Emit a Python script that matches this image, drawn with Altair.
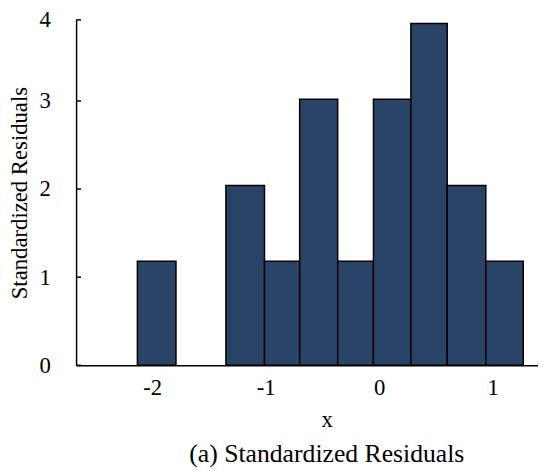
import altair as alt
import pandas as pd

# bins (x in data units) and bar heights
bin_start = [-2.13, -1.35, -1.01, -0.70, -0.365, -0.05, 0.28, 0.60, 0.94]
bin_end = [-1.79, -1.01, -0.70, -0.365, -0.05, 0.28, 0.60, 0.94, 1.27]
values = [1.18, 2.04, 1.18, 3.02, 1.18, 3.02, 3.88, 2.04, 1.18]

x_ticks = [-2, -1, 0, 1]
y_ticks = [0, 1, 2, 3, 3.92]

FONT = "'Liberation Serif', 'Times New Roman', 'DejaVu Serif', serif"

df = pd.DataFrame({"start": bin_start, "end": bin_end, "value": values})
df_ticks = pd.DataFrame({"v": y_ticks})

xscale = alt.Scale(domain=[-2.67, 1.40], nice=False, zero=False)
yscale = alt.Scale(domain=[0, 3.92], nice=False)

yaxis = alt.Axis(values=y_ticks, title="Standardized Residuals",
                 labelExpr="datum.value > 3.5 ? '4' : datum.label",
                 ticks=False, grid=False, labelPadding=26,
                 titlePadding=8, domainColor="black", domainWidth=1.5)

bars = alt.Chart(df).mark_bar(
    color="#2a4468", stroke="black", strokeWidth=1.5
).encode(
    x=alt.X("start:Q", scale=xscale,
            axis=alt.Axis(values=x_ticks, title="x", ticks=False, grid=False,
                          labelExpr="datum.value < 0 ? '-' + abs(datum.value) : datum.label",
                          labelPadding=12, titlePadding=9, domainColor="black",
                          domainWidth=1.5, titleX=254)),
    x2="end:Q",
    y=alt.Y("value:Q", scale=yscale, axis=yaxis),
    y2=alt.datum(0),
)

ticks = alt.Chart(df_ticks).mark_rule(color="black", strokeWidth=1.5).encode(
    y=alt.Y("v:Q", scale=yscale, axis=yaxis),
    x=alt.value(0),
    x2=alt.value(5),
)

chart = alt.layer(bars, ticks).properties(
    width=468,
    height=350,
    autosize=alt.AutoSizeParams(type="none"),
    padding={"left": 69, "top": 9, "right": 0, "bottom": 100},
    title=alt.TitleParams("(a) Standardized Residuals", orient="bottom",
                          font=FONT, fontSize=26, fontWeight="normal",
                          color="black", offset=10, dx=20),
).configure_view(stroke=None).configure_axis(
    labelFont=FONT, titleFont=FONT, labelFontSize=23, titleFontSize=23,
    titleFontWeight="normal", labelColor="black", titleColor="black",
)

chart.save("out.html", embed_options={"renderer": "svg", "actions": False})
